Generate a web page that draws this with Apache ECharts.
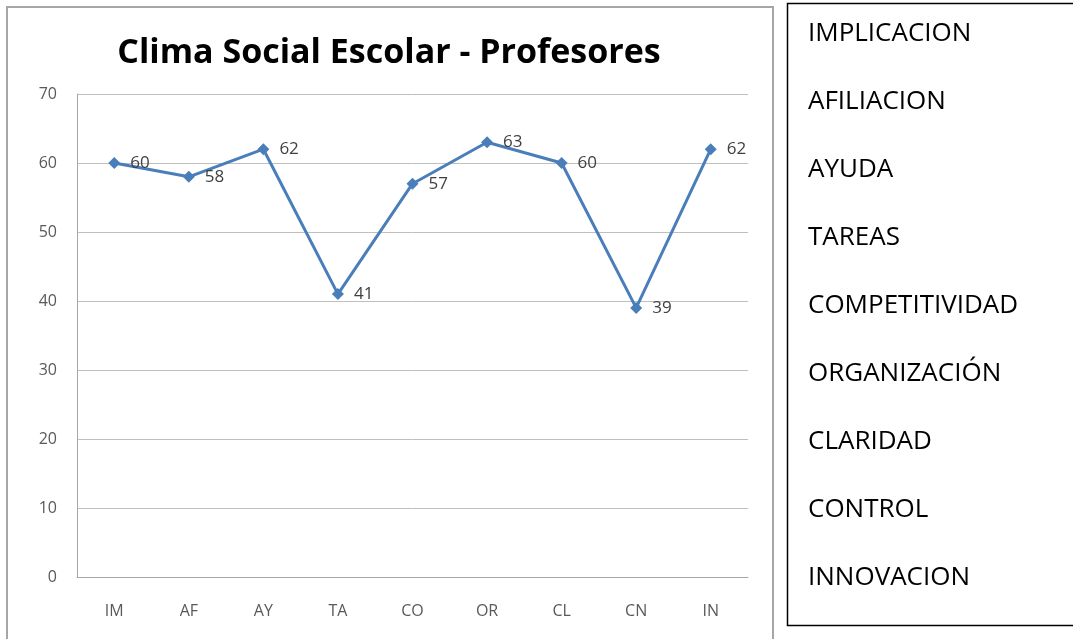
<!DOCTYPE html>
<html>
<head>
<meta charset="utf-8">
<script src="https://cdn.jsdelivr.net/npm/echarts@6/dist/echarts.min.js"></script>
<style>
    html, body { margin: 0; padding: 0; background: #fff; }
    #main { width: 1073px; height: 639px; }
</style>
</head>
<body>
<div id="main"></div>
<script>
// categorias (abreviadas) y puntajes
let categories = ["IM", "AF", "AY", "TA", "CO", "OR", "CL", "CN", "IN"];
let values = [60, 58, 62, 41, 57, 63, 60, 39, 62];
// texto del recuadro de la derecha
let legendNames = ["IMPLICACION", "AFILIACION", "AYUDA", "TAREAS", "COMPETITIVIDAD",
    "ORGANIZACIÓN", "CLARIDAD", "CONTROL", "INNOVACION"];

let font = "'Open Sans', sans-serif";

let graphics = [
    // marco del grafico
    {
        type: "rect",
        shape: {x: 7, y: 7, width: 766, height: 640},
        style: {fill: "none", stroke: "#a6a6a6", lineWidth: 2},
        z: 0,
    },
    // recuadro de la derecha
    {
        type: "rect",
        shape: {x: 787.5, y: 3.5, width: 300, height: 622},
        style: {fill: "none", stroke: "#000", lineWidth: 1.5},
        z: 0,
    },
];
legendNames.forEach((name, i) => {
    graphics.push({
        type: "text",
        x: 808,
        y: 34 + i * 67.9,
        style: {text: name, fill: "#000", font: "26px " + font, textVerticalAlign: "middle"},
    });
});

let chart = echarts.init(document.getElementById("main"));
chart.setOption({
    animation: false,
    title: {
        text: "Clima Social Escolar - Profesores",
        left: 384,
        top: 31,
        textAlign: "center",
        textStyle: {fontFamily: font, fontSize: 34, fontWeight: "bold", color: "#000"},
    },
    grid: {left: 77, right: 1073 - 748, top: 94, bottom: 639 - 577},
    xAxis: {
        type: "category",
        data: categories,
        boundaryGap: true,
        axisLine: {lineStyle: {color: "#a6a6a6", width: 1}},
        axisTick: {show: false},
        axisLabel: {color: "#595959", fontFamily: font, fontSize: 16, margin: 26},
    },
    yAxis: {
        type: "value",
        min: 0,
        max: 70,
        interval: 10,
        axisLine: {show: true, lineStyle: {color: "#a6a6a6", width: 1}},
        axisTick: {show: false},
        splitLine: {lineStyle: {color: "#bfbfbf", width: 1}},
        axisLabel: {color: "#595959", fontFamily: font, fontSize: 16, margin: 20},
    },
    series: [
        {
            type: "line",
            data: values,
            symbol: "diamond",
            symbolSize: 12,
            lineStyle: {color: "#4a7ebb", width: 3},
            itemStyle: {color: "#4a7ebb"},
            label: {
                show: true,
                position: "right",
                distance: 10,
                color: "#404040",
                fontFamily: font,
                fontSize: 17,
            },
        },
    ],
    graphic: graphics,
});
</script>
</body>
</html>
